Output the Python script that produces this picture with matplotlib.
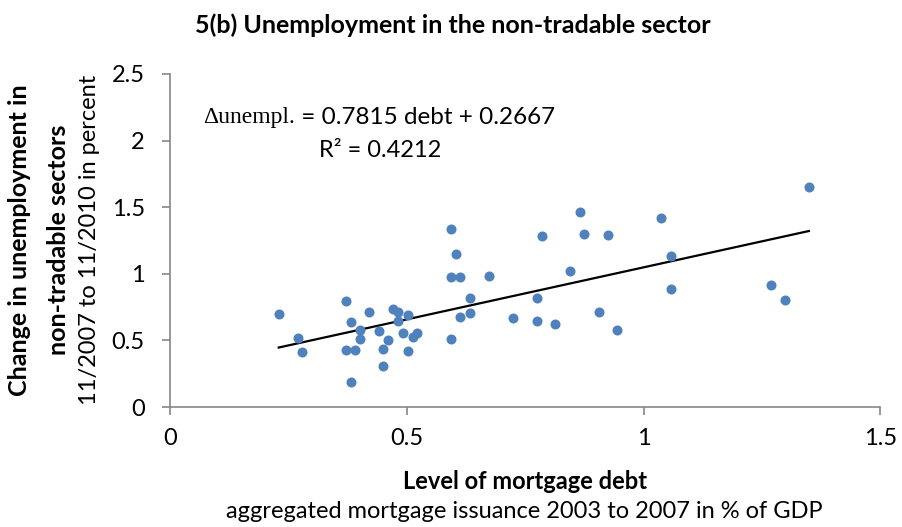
import numpy as np
import matplotlib.pyplot as plt

# mortgage debt level (x) and change in non-tradable unemployment (y)
debt = [0.230, 0.270, 0.280, 0.372, 0.372, 0.382, 0.382, 0.392, 0.401, 0.401,
        0.421, 0.442, 0.451, 0.451, 0.461, 0.472, 0.482, 0.481, 0.492, 0.502,
        0.502, 0.513, 0.522, 0.593, 0.593, 0.593, 0.604, 0.613, 0.613, 0.633,
        0.633, 0.673, 0.724, 0.775, 0.775, 0.785, 0.814, 0.845, 0.866, 0.875,
        0.906, 0.926, 0.945, 1.037, 1.057, 1.057, 1.269, 1.299, 1.349]
unempl = [0.695, 0.518, 0.413, 0.795, 0.431, 0.641, 0.191, 0.425, 0.581, 0.510,
          0.713, 0.573, 0.433, 0.305, 0.503, 0.735, 0.713, 0.643, 0.558, 0.688,
          0.423, 0.523, 0.555, 1.333, 0.973, 0.513, 1.151, 0.978, 0.678, 0.818,
          0.708, 0.986, 0.668, 0.818, 0.648, 1.283, 0.626, 1.018, 1.461, 1.296,
          0.716, 1.290, 0.578, 1.421, 1.133, 0.885, 0.913, 0.806, 1.650]

slope = 0.7815
intercept = 0.2667
r2 = 0.4212

x_ticks = [0, 0.5, 1, 1.5]
x_labels = ["0", "0.5", "1", "1.5"]
y_ticks = [0, 0.5, 1, 1.5, 2, 2.5]
y_labels = ["0", "0.5", "1", "1.5", "2", "2.5"]

plt.rcParams["font.family"] = ["Lato", "DejaVu Sans"]

fig = plt.figure(figsize=(9.03, 5.27), dpi=100)
ax = fig.add_axes([0.188, 0.2277, 0.787, 0.632])

ax.scatter(debt, unempl, s=52, color="#4F81BD", zorder=3, linewidths=0)

# linear trend over the data range
xs = np.array([min(debt), max(debt)])
ax.plot(xs, slope * xs + intercept, color="black", lw=1.6, zorder=2)

ax.set_xlim(0, 1.5)
ax.set_ylim(0, 2.5)
ax.set_xticks(x_ticks)
ax.set_xticklabels(x_labels)
ax.set_yticks(y_ticks)
ax.set_yticklabels(y_labels)
ax.tick_params(axis="both", direction="out", length=6, width=1.2,
               color="#868686", labelsize=17)
ax.tick_params(axis="x", pad=9)
ax.tick_params(axis="y", pad=12)
for side in ["top", "right"]:
    ax.spines[side].set_visible(False)
for side in ["left", "bottom"]:
    ax.spines[side].set_color("#868686")
    ax.spines[side].set_linewidth(1.2)

# regression equation
t1 = ax.text(0.07, 2.13, "\u0394unempl.", fontsize=17, family="Liberation Serif",
             va="baseline")
ax.annotate(" = %.4f debt + %.4f" % (slope, intercept), xy=(1, 0), xycoords=t1,
            fontsize=17.5, va="bottom")
ax.text(0.444, 1.88, "R\u00b2 = %.4f" % r2, fontsize=17, ha="center", va="baseline")

fig.text(0.502, 0.953, "5(b) Unemployment in the non-tradable sector",
         fontsize=18, fontweight="bold", ha="center", va="center")

fig.text(0.581, 0.087, "Level of mortgage debt", fontsize=17, fontweight="bold",
         ha="center", va="center")
fig.text(0.581, 0.03, "aggregated mortgage issuance 2003 to 2007 in % of GDP",
         fontsize=17, ha="center", va="center")

fig.text(0.022, 0.544, "Change in unemployment in", fontsize=18, fontweight="bold",
         rotation=90, ha="center", va="center")
fig.text(0.065, 0.544, "non-tradable sectors", fontsize=18, fontweight="bold",
         rotation=90, ha="center", va="center")
fig.text(0.099, 0.544, "11/2007 to 11/2010 in percent", fontsize=17,
         rotation=90, ha="center", va="center")

fig.savefig("out.png", dpi=100)
